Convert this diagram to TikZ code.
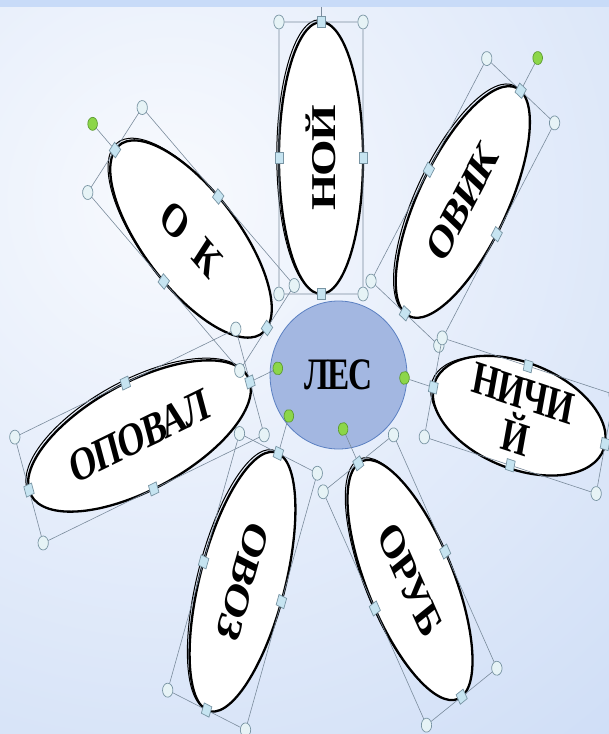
\documentclass[tikz,border=0pt]{standalone}
\usepackage{fontspec}
\setmainfont{Liberation Serif}[LetterSpace=-4]
\usetikzlibrary{shapes.geometric}

\definecolor{bgin}{HTML}{F8FAFE}
\definecolor{bgout}{HTML}{B8CEF2}
\definecolor{band}{HTML}{C8DBF8}
\definecolor{hubfill}{HTML}{A3B7E1}
\definecolor{hubline}{HTML}{5B80C2}
\definecolor{selline}{HTML}{7A8B9C}
\definecolor{gripfill}{HTML}{E6F3F6}
\definecolor{gripline}{HTML}{7894A3}
\definecolor{knobfill}{HTML}{C6E4F1}
\definecolor{spinfill}{HTML}{8CD649}
\definecolor{spinline}{HTML}{5D9B33}

\pgfdeclarelayer{grips}
\pgfdeclarelayer{top}
\pgfsetlayers{main,grips,top}

% petal: name, centre x, centre y (screen px), turn, half width, half height, text turn, text
\newcommand{\petal}[8]{%
  \begin{scope}[shift={(#2-2.2,-#3+2.2)}, xscale=0.74, rotate=#4]
    \draw[rim] (0,0) ellipse [x radius=#5, y radius=#6];
  \end{scope}
  \begin{scope}[shift={(#2,-#3)}, xscale=0.74, rotate=#4, transform shape]
    \node[leaf, minimum width={2*#6pt}, minimum height={2*#5pt}, rotate=#7] (#1) at (0,0) {#8};
    \begin{pgfonlayer}{grips}
      \node[grip] (#1-nw) at (-#5,#6) {};
      \node[knob] (#1-n) at (0,#6) {};
      \node[grip] (#1-ne) at (#5,#6) {};
      \node[knob] (#1-e) at (#5,0) {};
      \node[grip] (#1-se) at (#5,-#6) {};
      \node[knob] (#1-s) at (0,-#6) {};
      \node[grip] (#1-sw) at (-#5,-#6) {};
      \node[knob] (#1-w) at (-#5,0) {};
      \node[spin] (#1-rot) at (0,#6+40) {};
      \draw[selbox] (#1-nw) -- (#1-n) -- (#1-ne) -- (#1-e) -- (#1-se)
        -- (#1-s) -- (#1-sw) -- (#1-w) -- (#1-nw);
      \draw[selbox] (#1-n) -- (#1-rot);
    \end{pgfonlayer}
  \end{scope}}

\begin{document}
\begin{tikzpicture}[
  x=1pt, y=1pt,
  leaf/.style={ellipse, draw=black, line width=2.3pt, fill=white, inner sep=0pt,
    align=center, font=\fontsize{47}{46}\selectfont\bfseries},
  hub/.style={ellipse, draw=hubline, line width=0.8pt, fill=hubfill, inner sep=0pt,
    minimum width=185pt, minimum height=148pt, font=\fontsize{45}{45}\selectfont\bfseries},
  rim/.style={draw=black, line width=1pt},
  selbox/.style={draw=selline, line width=0.6pt},
  grip/.style={circle, draw=gripline, fill=gripfill, line width=0.7pt, inner sep=0pt, minimum size=14pt},
  knob/.style={rectangle, draw=gripline, fill=knobfill, line width=0.7pt, inner sep=0pt, minimum size=11pt},
  spin/.style={circle, draw=spinline, fill=spinfill, line width=0.7pt, inner sep=0pt, minimum size=13pt}
]
\useasboundingbox (0,0) rectangle (609,-734);
\clip (0,0) rectangle (609,-734);
% ---- slide background ----
\shade[inner color=bgin, outer color=bgout] (170,-200) circle (1100);
% ---- centre ----
\begin{scope}[shift={(338.5,-375)}, xscale=0.74, transform shape]
  \node[hub] (les) {ЛЕС};
\end{scope}
% ---- petals ----
\petal{ok}{191}{239}{49.1}{56.2}{135.9}{-90}{О\hspace{0.45em}К}
\petal{noj}{321}{158}{0}{56.8}{136}{90}{НОЙ}
\petal{ovik}{462.8}{202}{-35.1}{56}{136}{90}{ОВИК}
\petal{nichij}{519.2}{415.7}{76.3}{51}{119.5}{-90}{НИЧИ\\Й}
\petal{opoval}{139.5}{436}{-70.1}{56.3}{158.8}{90}{ОПОВАЛ}
\petal{ovoz}{242.5}{581.7}{-20.7}{56.2}{137.2}{-90}{ОВОЗ}
\petal{orub}{410}{580}{30.9}{55.4}{136}{-90}{ОРУБ}
% ---- top strip ----
\begin{pgfonlayer}{top}
  \fill[band] (0,0) rectangle (609,-7);
\end{pgfonlayer}
\end{tikzpicture}
\end{document}
